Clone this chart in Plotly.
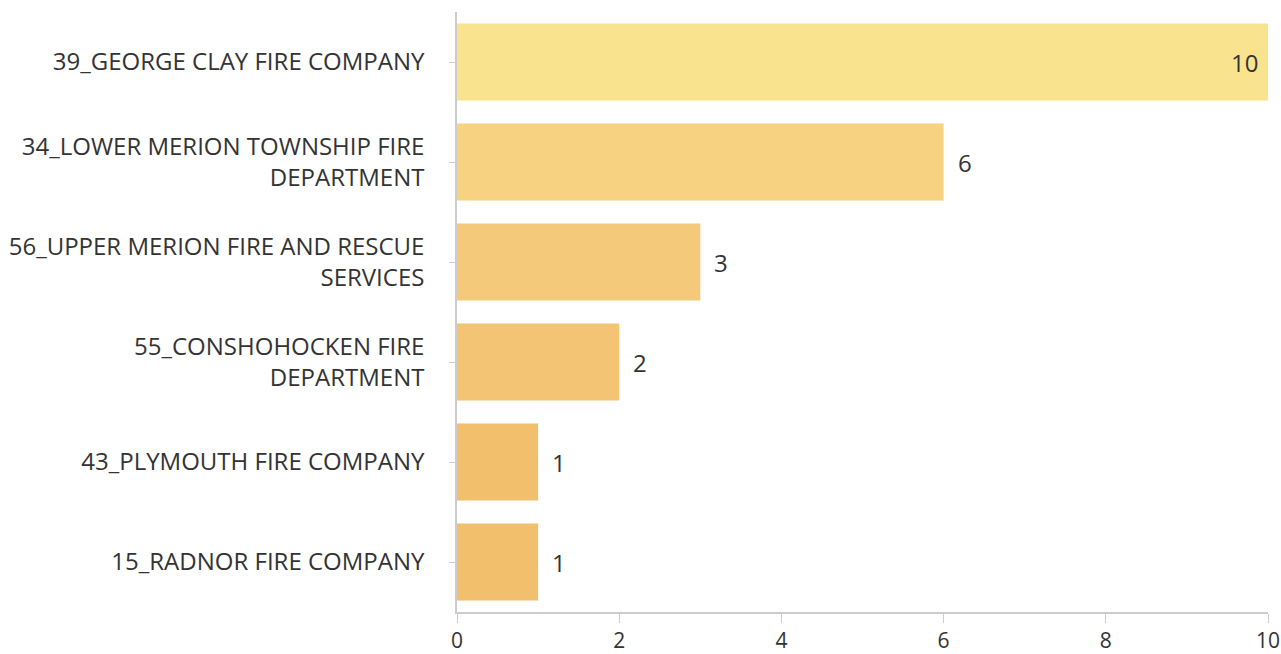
import plotly.graph_objects as go

categories = [
    "39_GEORGE CLAY FIRE COMPANY",
    "34_LOWER MERION TOWNSHIP FIRE<br>DEPARTMENT",
    "56_UPPER MERION FIRE AND RESCUE<br>SERVICES",
    "55_CONSHOHOCKEN FIRE<br>DEPARTMENT",
    "43_PLYMOUTH FIRE COMPANY",
    "15_RADNOR FIRE COMPANY",
]
values = [10, 6, 3, 2, 1, 1]
bar_colors = ["#F9E38F", "#F6D281", "#F4C979", "#F3C474", "#F2BF6C", "#F2BF6C"]
label_inside = [True, False, False, False, False, False]

FONT = "Open Sans"
TXT = "#333333"

fig = go.Figure(
    go.Bar(
        y=categories,
        x=values,
        orientation="h",
        marker=dict(color=bar_colors, line=dict(width=0)),
        hoverinfo="x+y",
    )
)

for cat, val, inside in zip(categories, values, label_inside):
    fig.add_annotation(
        x=val,
        y=cat,
        text=str(val),
        showarrow=False,
        xanchor="right" if inside else "left",
        xshift=-8 if inside else 12,
        font=dict(family=FONT, size=24, color=TXT),
    )

fig.update_layout(
    width=1281,
    height=654,
    margin=dict(l=457, r=13, t=12, b=42, autoexpand=False),
    paper_bgcolor="white",
    plot_bgcolor="white",
    bargap=0.23,
    showlegend=False,
    font=dict(family=FONT, size=24, color=TXT),
)
fig.update_yaxes(
    autorange="reversed",
    showline=True,
    linecolor="#cccccc",
    linewidth=1.5,
    ticks="outside",
    ticklen=6,
    tickcolor="#cccccc",
    showgrid=False,
    ticklabelstandoff=20,
    automargin=False,
)
fig.update_xaxes(
    range=[0, 10],
    dtick=2,
    showline=True,
    linecolor="#cccccc",
    linewidth=1.5,
    ticks="outside",
    ticklen=9,
    tickcolor="#cccccc",
    showgrid=False,
    zeroline=False,
    automargin=False,
    ticklabeloverflow="allow",
    tickfont=dict(size=21),
)

fig.write_html(
    "out.html",
    config={"displayModeBar": False},
    post_script="document.body.style.margin='0';document.body.style.overflow='hidden';",
)
